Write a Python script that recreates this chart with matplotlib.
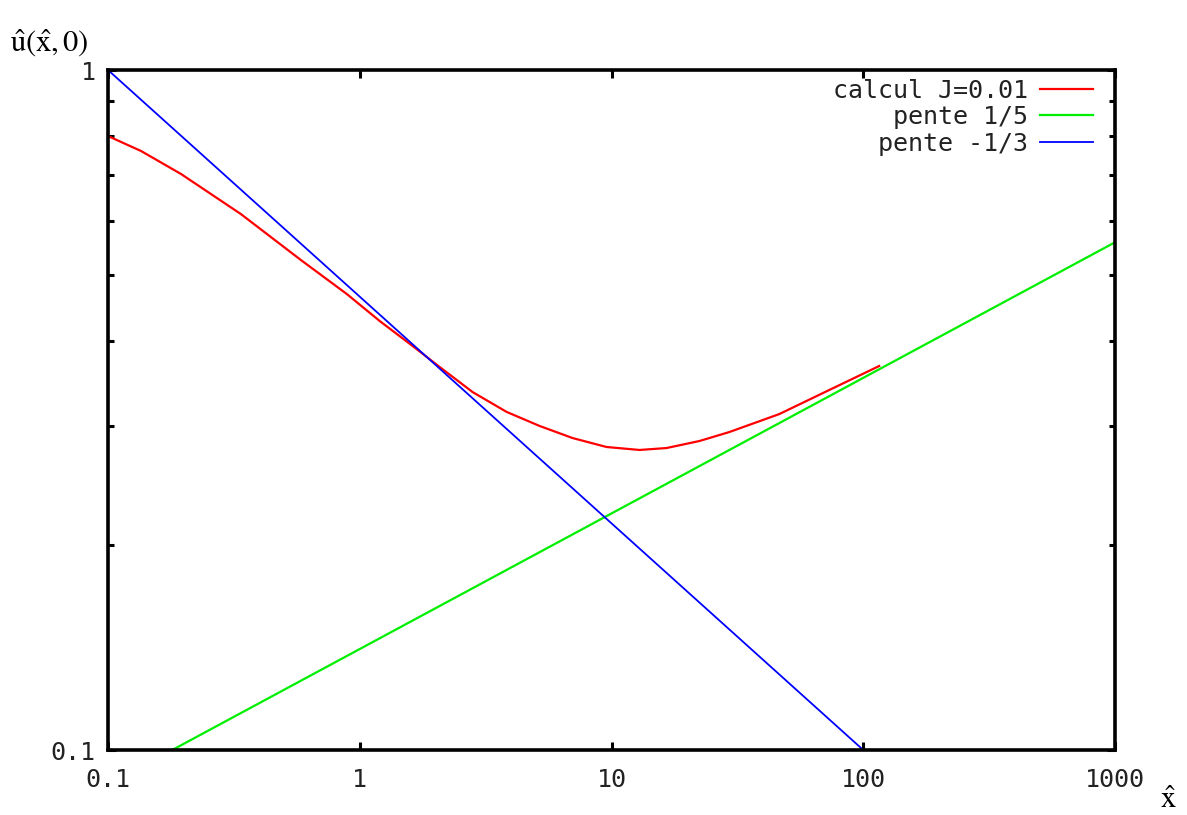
import matplotlib
matplotlib.use("Agg")
import matplotlib.pyplot as plt
from matplotlib.ticker import FixedLocator, FixedFormatter, LogLocator, NullLocator, NullFormatter

# --- data --- #
calcul_x = [0.1, 0.1352, 0.1949, 0.3371, 0.5833, 0.888, 1.2006, 1.623, 2.077, 2.808,
            3.831, 5.18, 7.0, 9.554, 12.92, 16.53, 22.35, 29.4, 46.4, 73.3, 115.7]
calcul_y = [0.7996, 0.7602, 0.7033, 0.614, 0.5256, 0.4684, 0.4274, 0.3927, 0.3658, 0.336,
            0.3142, 0.2996, 0.2876, 0.279, 0.2762, 0.278, 0.2847, 0.2935, 0.3119, 0.3384, 0.367]

pente15_x = [0.18, 1000]
pente15_y = [0.1, 0.558]

pente13_x = [0.1, 100]
pente13_y = [1.0, 0.1]

x_ticks = [0.1, 1, 10, 100, 1000]
x_labels = ["0.1", "1", "10", "100", "1000"]
y_ticks = [0.1, 1]
y_labels = ["0.1", "1"]

mono = "DejaVu Sans Mono"
plt.rcParams["mathtext.fontset"] = "stix"

fig = plt.figure(figsize=(11.87, 8.15), dpi=100)
ax = fig.add_axes([108 / 1187, 1 - 750 / 815, 1007 / 1187, 680 / 815])

ax.plot(calcul_x, calcul_y, color="#ff0000", lw=1.6, label="calcul J=0.01")
ax.plot(pente15_x, pente15_y, color="#00ee00", lw=1.6, label="pente 1/5")
ax.plot(pente13_x, pente13_y, color="#0000ff", lw=1.3, label="pente -1/3")

ax.set_xscale("log")
ax.set_yscale("log")
ax.set_xlim(0.1, 1000)
ax.set_ylim(0.1, 1)

ax.xaxis.set_major_locator(FixedLocator(x_ticks))
ax.xaxis.set_major_formatter(FixedFormatter(x_labels))
ax.xaxis.set_minor_locator(NullLocator())
ax.yaxis.set_major_locator(FixedLocator(y_ticks))
ax.yaxis.set_major_formatter(FixedFormatter(y_labels))
ax.yaxis.set_minor_locator(LogLocator(base=10, subs=range(2, 10)))
ax.yaxis.set_minor_formatter(NullFormatter())

for sp in ax.spines.values():
    sp.set_linewidth(2.6)

ax.tick_params(which="both", direction="in", top=True, right=True, width=2.2)
ax.tick_params(which="major", length=5.5)
ax.tick_params(which="minor", length=4)
ax.tick_params(axis="x", pad=13)
ax.tick_params(axis="y", pad=9)
for lab in ax.get_xticklabels() + ax.get_yticklabels():
    lab.set_fontfamily(mono)
    lab.set_fontsize(18)
    lab.set_color("#222222")

leg = ax.legend(loc="upper right", bbox_to_anchor=(0.978, 0.9875), frameon=False,
                markerfirst=False, borderpad=0, borderaxespad=0,
                handlelength=2.1, handletextpad=0.5, labelspacing=0.1,
                prop={"family": mono, "size": 18})
for t in leg.get_texts():
    t.set_color("#222222")

# axis labels, gnuplot style (placed at the ends of the axes)
fig.text(10 / 1187, 1 - 52 / 815, r"$\hat{\mathrm{u}}(\hat{\mathrm{x}},0)$", fontsize=22,
         ha="left", va="baseline")
fig.text(1168 / 1187, 1 - 808 / 815, r"$\hat{\mathrm{x}}$", fontsize=22,
         ha="center", va="baseline")

fig.savefig("out.png", dpi=100)
